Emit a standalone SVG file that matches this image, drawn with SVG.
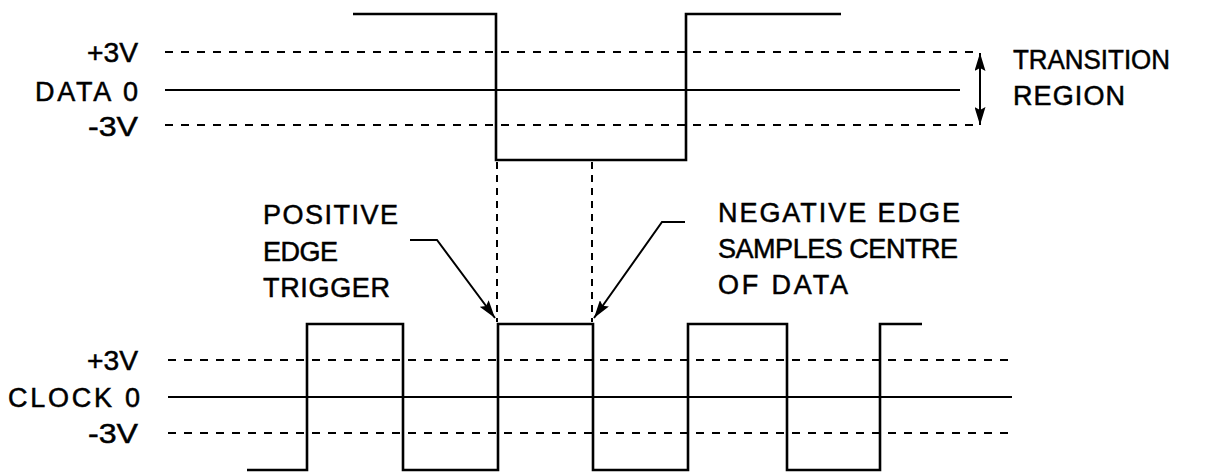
<svg xmlns="http://www.w3.org/2000/svg" width="1210" height="472" viewBox="0 0 1210 472">
<style>
.t{font-family:"Liberation Sans",Arial,sans-serif;font-size:27px;fill:#000;stroke:#000;stroke-width:0.5}
.r{text-anchor:end}
.w{fill:none;stroke:#000;stroke-width:2.6;stroke-linejoin:miter}
.s{fill:none;stroke:#000;stroke-width:2}
.d{fill:none;stroke:#000;stroke-width:2;stroke-dasharray:8 8}
.v{fill:none;stroke:#000;stroke-width:2;stroke-dasharray:7 6}
.l{fill:none;stroke:#000;stroke-width:2}
</style>
<defs>
<marker id="ah" viewBox="0 0 18 11" refX="18" refY="5.5" markerWidth="18" markerHeight="11" markerUnits="userSpaceOnUse" orient="auto">
<path d="M0,0 L18,5.5 L0,11 L3,5.5 Z" fill="#000"/>
</marker>
<marker id="ah2" viewBox="0 0 18 11" refX="18" refY="5.5" markerWidth="18" markerHeight="11" markerUnits="userSpaceOnUse" orient="auto-start-reverse">
<path d="M0,0 L18,5.5 L0,11 L3,5.5 Z" fill="#000"/>
</marker>
</defs>
<rect width="1210" height="472" fill="#fff"/>
<g id="data-levels">
<line class="d" x1="165" y1="52" x2="980" y2="52"/>
<line class="s" x1="165" y1="90" x2="960" y2="90"/>
<line class="d" x1="165" y1="125" x2="980" y2="125"/>
</g>
<g id="data-signal">
<polyline class="w" points="353,14 496,14 496,160 686,160 686,14 841,14"/>
</g>
<g id="data-labels">
<text class="t r" x="138" y="62" textLength="51" lengthAdjust="spacingAndGlyphs">+3V</text>
<text class="t r" x="138" y="101" textLength="103" lengthAdjust="spacing">DATA 0</text>
<text class="t r" x="138" y="136" textLength="50" lengthAdjust="spacingAndGlyphs">-3V</text>
</g>
<g id="transition">
<text class="t" x="1013" y="69" textLength="157" lengthAdjust="spacingAndGlyphs">TRANSITION</text>
<text class="t" x="1013" y="105" textLength="112" lengthAdjust="spacing">REGION</text>
</g>
<g id="clock-levels">
<line class="d" x1="168" y1="360" x2="1008" y2="360"/>
<line class="s" x1="168" y1="397" x2="1012" y2="397"/>
<line class="d" x1="168" y1="433" x2="1012" y2="433"/>
</g>
<g id="clock-signal">
<polyline class="w" points="247,470 307,470 307,324 403,324 403,470 498,470 498,324 593,324 593,470 688,470 688,324 787,324 787,470 880,470 880,324 922,324"/>
</g>
<g id="clock-labels">
<text class="t r" x="138" y="370" textLength="51" lengthAdjust="spacingAndGlyphs">+3V</text>
<text class="t r" x="140" y="407" textLength="132" lengthAdjust="spacing">CLOCK 0</text>
<text class="t r" x="138" y="443" textLength="50" lengthAdjust="spacingAndGlyphs">-3V</text>
</g>
<g id="positive-label">
<text class="t" x="263" y="224" textLength="135" lengthAdjust="spacing">POSITIVE</text>
<text class="t" x="263" y="261" textLength="75" lengthAdjust="spacing">EDGE</text>
<text class="t" x="263" y="297" textLength="127" lengthAdjust="spacing">TRIGGER</text>
</g>
<g id="negative-label">
<text class="t" x="718" y="222" textLength="242" lengthAdjust="spacing">NEGATIVE EDGE</text>
<text class="t" x="718" y="258" textLength="240" lengthAdjust="spacing">SAMPLES CENTRE</text>
<text class="t" x="718" y="294" textLength="130" lengthAdjust="spacing">OF DATA</text>
</g>
<g id="connectors">
<line class="v" x1="497" y1="162" x2="497" y2="322"/>
<line class="v" x1="592" y1="162" x2="592" y2="322"/>
<line class="l" x1="980" y1="53" x2="980" y2="125" marker-start="url(#ah2)" marker-end="url(#ah)"/>
<polyline class="l" points="410,240 437,240 495,318" marker-end="url(#ah)"/>
<polyline class="l" points="685,222 662,222 594,318" marker-end="url(#ah)"/>
</g>
</svg>
